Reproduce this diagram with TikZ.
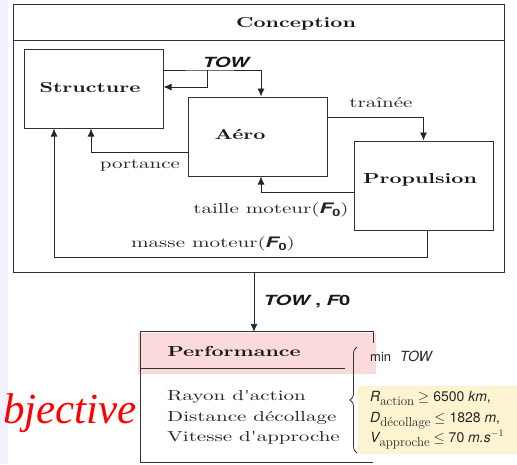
\documentclass[tikz,border=0pt]{standalone}
\usepackage{fontspec}
\usepackage{graphicx}
\usetikzlibrary{arrows.meta,calc,decorations.pathreplacing}

\newfontfamily\diagFont{lmroman10-regular.otf}[BoldFont=lmroman10-bold.otf,FakeStretch=1.45]
\newfontfamily\diagSans{TeX Gyre Heros}[FakeStretch=1.45]
\newfontfamily\plainSans{TeX Gyre Heros}
\newfontfamily\slideFont{Liberation Serif}

\definecolor{slideLavender}{RGB}{240,240,254}
\definecolor{markPink}{RGB}{250,218,218}
\definecolor{markYellow}{RGB}{252,243,208}

\newcommand{\Fzero}{{\diagSans\bfseries\itshape F}\raisebox{-3.5pt}{\diagSans\bfseries\fontsize{10}{10}\selectfont 0}}
\newcommand{\lowText}[1]{\raisebox{-4pt}{\rmfamily\fontsize{13}{13}\selectfont #1}}

\begin{document}
\begin{tikzpicture}[x=1pt,y=-1pt,%%
  boxStyle/.style={draw=black!80,line width=1pt,inner sep=0pt},%%
  flowStyle/.style={draw=black!85,line width=0.9pt,-{Latex[length=8pt,width=7pt]}},%%
  titleStyle/.style={anchor=base,font=\diagFont\bfseries\fontsize{14.5}{17}\selectfont,text=black!90},%%
  textStyle/.style={anchor=base,font=\diagFont\fontsize{14.5}{17}\selectfont,text=black!85},%%
  varStyle/.style={anchor=base,font=\diagSans\bfseries\itshape\fontsize{14}{17}\selectfont,text=black!90},%%
  limitStyle/.style={anchor=base west,inner sep=0pt,font=\plainSans\fontsize{14}{17}\selectfont,text=black!85}
]
%%
\clip (0,0) rectangle (517,464);
%%
%% Slide background and highlights.
\fill[slideLavender] (0,0) rectangle (8,464);
\fill[markPink] (138,333) rectangle (376,374);
\fill[markYellow] (358,386) rectangle (517,454);
%%
%% The design loop.
%%
\node[boxStyle,minimum width=491pt,minimum height=268pt] (conception) at (258.5,138) {};
\draw[boxStyle] ([yshift=-37pt]conception.north west) -- ([yshift=-37pt]conception.north east);
\node[titleStyle] (conceptionTitle) at (296,27) {Conception};
%% The three disciplines.
\node[boxStyle,minimum width=139pt,minimum height=79pt] (structure) at (93.5,88.5) {};
\node[boxStyle,minimum width=139pt,minimum height=79pt] (aero) at (257.5,136.5) {};
\node[boxStyle,minimum width=139pt,minimum height=89pt] (propulsion) at (423.5,185.5) {};
\node[titleStyle] (structureTitle) at (90,92) {Structure};
\node[titleStyle] (aeroTitle) at (240,139) {Aéro};
\node[titleStyle] (propulsionTitle) at (420,183) {Propulsion};
%% Couplings.
\coordinate (towSplit) at (207,70);
\draw[flowStyle] (structure.east |- towSplit) -- (towSplit) -| ([xshift=3.5pt]aero.north);
\draw[flowStyle] (towSplit) |- ([yshift=1.5pt]structure.east);
\node[varStyle] (towLabel) at (226,67) {TOW};
\draw[flowStyle] ([yshift=19.5pt]aero.east) -| (propulsion.north);
\node[textStyle] (dragLabel) at (381,107) {traînée};
\draw[flowStyle] ([yshift=-15.5pt]aero.west) -| ([xshift=-2.5pt]structure.south);
\node[textStyle] (liftLabel) at (140,168) {portance};
\draw[flowStyle] ([yshift=-6.5pt]propulsion.west) -| ([xshift=3.5pt]aero.south);
\node[textStyle] (sizeLabel) at (271,213) {taille moteur(\Fzero)};
\draw[flowStyle] ([xshift=3.5pt]propulsion.south) -- ++(0,27) -| ([xshift=-39.5pt]structure.south);
\node[textStyle] (massLabel) at (213,247) {masse moteur(\Fzero)};
%%
%% Performance evaluation.
%%
\node[minimum width=232pt,minimum height=130pt,inner sep=0pt] (performance) at (257,397) {};
\draw[boxStyle] ([yshift=-11pt]performance.north east) -- (performance.north east)
  -- (performance.north west) -- (performance.south west) -- (performance.south east);
\draw[boxStyle] ([yshift=-37pt]performance.north west) -- ++(204,0);
\draw[flowStyle] ([xshift=-4.5pt]conception.south) -- ([xshift=-4.5pt]conception.south |- performance.north);
\node[varStyle] (outputLabel) at (307,305) {TOW\upshape\ , \itshape F\upshape 0};
\node[titleStyle] (performanceTitle) at (234,356) {Performance};
\node[textStyle,anchor=base west,inner sep=0pt] (rangeText) at (167,400) {Rayon d'action};
\node[textStyle,anchor=base west,inner sep=0pt] (takeoffText) at (167,421) {Distance décollage};
\node[textStyle,anchor=base west,inner sep=0pt] (approachText) at (167,441) {Vitesse d'approche};
%% Objective and constraints.
\draw[black!80,line width=0.8pt,decorate,decoration={brace,amplitude=7pt}] (357,453) -- (357,347);
\node[limitStyle] (objectiveLine) at (370,361) {{\fontsize{13}{14}\selectfont min}\hspace{9pt}{\itshape TOW}};
\node[limitStyle] (rangeLimit) at (370,401) {{\itshape R}\lowText{action} $\geq$ 6500 {\itshape km},};
\node[limitStyle] (takeoffLimit) at (370,422) {{\itshape D}\lowText{décollage} $\leq$ 1828 {\itshape m},};
\node[limitStyle] (approachLimit) at (370,442) {{\itshape V}\lowText{approche} $\leq$ 70 {\itshape m.s}$^{-1}$};
\node[anchor=base west,inner sep=0pt,font=\slideFont\itshape\fontsize{43}{43}\selectfont,text=red] (objectiveText) at (3,423) {bjective};
\end{tikzpicture}
\end{document}
